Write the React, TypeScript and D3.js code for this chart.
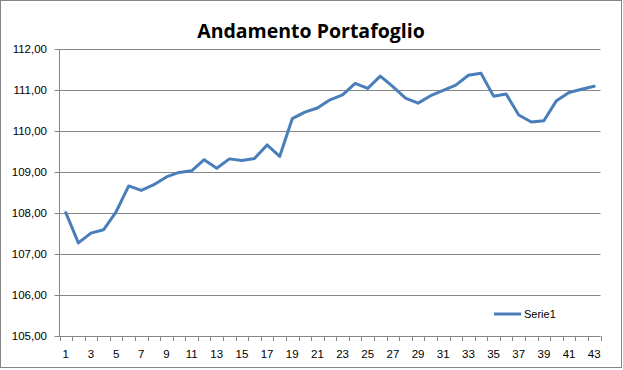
import React from 'react'
import * as d3 from 'd3'

const days = d3.range(1, 44)
const values = [
  108.01, 107.27, 107.51, 107.59, 108.03, 108.66, 108.55, 108.69, 108.88, 108.99,
  109.03, 109.3, 109.09, 109.32, 109.28, 109.33, 109.66, 109.38, 110.3, 110.46,
  110.56, 110.76, 110.88, 111.16, 111.04, 111.34, 111.08, 110.8, 110.68, 110.86,
  110.99, 111.12, 111.36, 111.41, 110.85, 110.9, 110.39, 110.22, 110.25, 110.74,
  110.94, 111.02, 111.09,
]
const yTicks = [105, 106, 107, 108, 109, 110, 111, 112]
const seriesName = 'Serie1'
const title = 'Andamento Portafoglio'

const W = 623
const H = 370
const plot = { left: 59.5, right: 600.5, top: 49, bottom: 336 }
const gridColor = '#868686'
const lineColor = '#4A7EBB'
const font = "'Liberation Sans', Arial, sans-serif"

export default function App() {
  const x = d3
    .scaleBand<number>()
    .domain(days)
    .range([plot.left, plot.right])
  const y = d3.scaleLinear().domain([105, 112]).range([plot.bottom, plot.top])
  const bw = x.bandwidth()

  const line = d3
    .line<number>()
    .x((_, i) => (x(days[i]) as number) + bw / 2)
    .y((d) => y(d))

  const fmt = (v: number) => v.toFixed(2).replace('.', ',')
  const tickEdges = d3.range(days.length + 1).map((i) => plot.left + i * bw)

  return (
    <svg
      width={W}
      height={H}
      style={{ position: 'absolute', left: 0, top: 0, background: '#fff' }}
    >
      <rect x={0.5} y={0.5} width={621} height={367} fill="#fff" stroke={gridColor} />
      <text
        x={311}
        y={38}
        textAnchor="middle"
        fontFamily="'Open Sans', sans-serif"
        fontWeight="bold"
        fontSize={19.5}
        fill="#000"
      >
        {title}
      </text>

      {yTicks.map((t) => (
        <g key={t}>
          <line
            x1={plot.left - 5}
            x2={plot.right}
            y1={Math.round(y(t)) + 0.5}
            y2={Math.round(y(t)) + 0.5}
            stroke={gridColor}
          />
          <text
            x={47}
            y={y(t)}
            dy="0.35em"
            textAnchor="end"
            fontFamily={font}
            fontSize={11.5}
            fill="#000"
          >
            {fmt(t)}
          </text>
        </g>
      ))}

      <line x1={plot.left} x2={plot.left} y1={plot.top} y2={plot.bottom} stroke={gridColor} />
      {tickEdges.map((tx, i) => (
        <line
          key={i}
          x1={Math.round(tx) + 0.5}
          x2={Math.round(tx) + 0.5}
          y1={plot.bottom}
          y2={plot.bottom + 5}
          stroke={gridColor}
        />
      ))}
      {days
        .filter((d) => d % 2 === 1)
        .map((d) => (
          <text
            key={d}
            x={(x(d) as number) + bw / 2}
            y={358}
            textAnchor="middle"
            fontFamily={font}
            fontSize={11.5}
            fill="#000"
          >
            {d}
          </text>
        ))}

      <path
        d={line(values) || ''}
        fill="none"
        stroke={lineColor}
        strokeWidth={3}
        strokeLinejoin="round"
        strokeLinecap="round"
      />

      <line x1={494} x2={521} y1={314} y2={314} stroke={lineColor} strokeWidth={3} />
      <text x={524} y={314} dy="0.35em" fontFamily={font} fontSize={11} fill="#000">
        {seriesName}
      </text>
    </svg>
  )
}
